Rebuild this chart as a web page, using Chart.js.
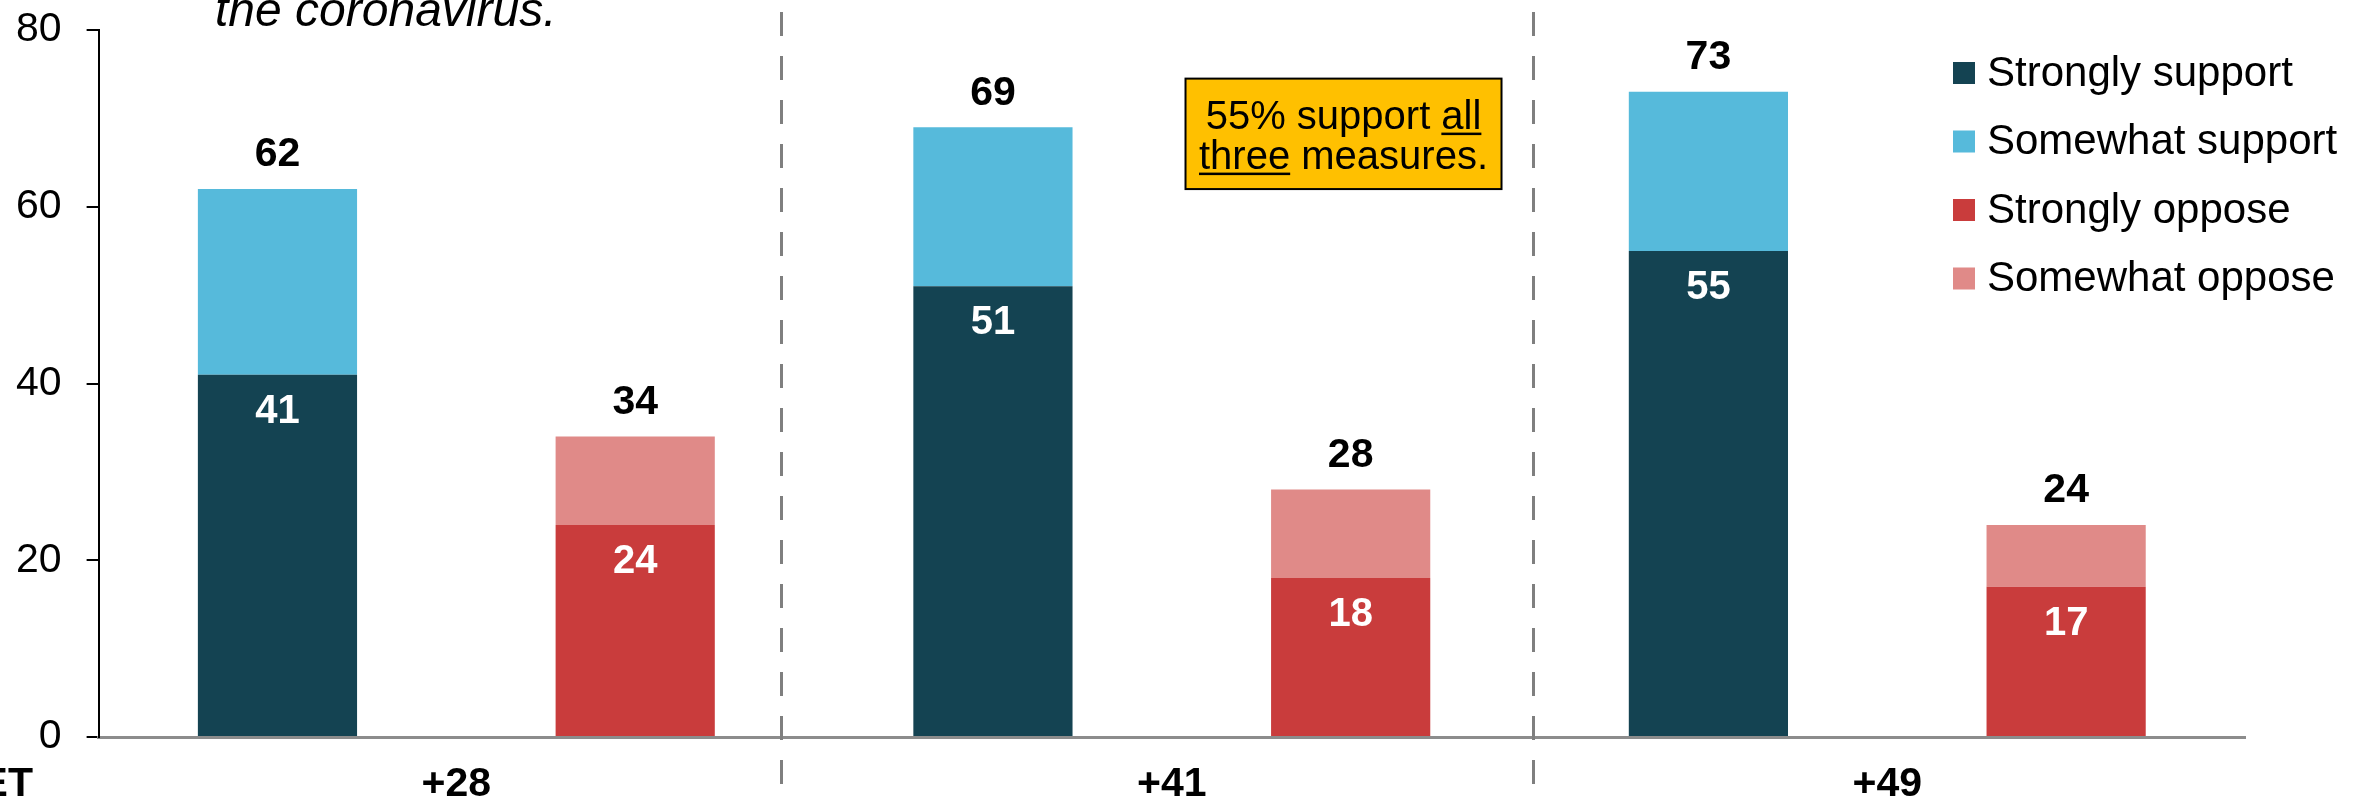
<!DOCTYPE html>
<html>
<head>
<meta charset="utf-8">
<script src="https://cdn.jsdelivr.net/npm/chart.js@4.4.1/dist/chart.umd.min.js"></script>
<style>
  html, body { margin: 0; padding: 0; background: #fff; }
  #wrap { width: 2368px; height: 805px; }
</style>
</head>
<body>
<div id="wrap"><canvas id="chart" width="2368" height="805"></canvas></div>
<script>
// values
var categories = ['+28', '+41', '+49'];
var stronglySupport = [41, 51, 55];
var somewhatSupport = [21, 18, 18];
var stronglyOppose = [24, 18, 17];
var somewhatOppose = [10, 10, 7];
var yTicks = [0, 20, 40, 60, 80];
var separatorsAt = [0.454, 1.505];   // in category units
var FONT = "'Liberation Sans', Arial, sans-serif";

Chart.defaults.font.family = FONT;
Chart.defaults.color = '#000';

// white numbers inside the "strongly" segments, black totals above each stack
var valueLabels = {
  id: 'valueLabels',
  afterDatasetsDraw: function(chart){
    var ctx = chart.ctx;
    ctx.save();
    ctx.textAlign = 'center';
    ctx.textBaseline = 'middle';
    chart.data.datasets.forEach(function(ds, di){
      var meta = chart.getDatasetMeta(di);
      meta.data.forEach(function(bar, i){
        if (ds.inner){
          ctx.font = 'bold 40px ' + FONT;
          ctx.fillStyle = '#fff';
          ctx.fillText(ds.data[i], bar.x, bar.y + 37);
        }
        if (ds.totalOf != null){
          var total = ds.data[i] + chart.data.datasets[ds.totalOf].data[i];
          ctx.font = 'bold 41px ' + FONT;
          ctx.fillStyle = '#000';
          ctx.fillText(total, bar.x, bar.y - 34);
        }
      });
    });
    ctx.restore();
  }
};

// dashed lines between the groups, title fragment, NET label, note box, legend
var extras = {
  id: 'extras',
  afterDraw: function(chart){
    var ctx = chart.ctx;
    var xs = chart.scales.x, ys = chart.scales.y;
    var area = chart.chartArea;
    ctx.save();

    ctx.strokeStyle = '#7f7f7f';
    ctx.lineWidth = 3;
    ctx.setLineDash([24, 20]);
    separatorsAt.forEach(function(v){
      var px = Math.round(xs.getPixelForValue(v)) + 0.5;
      ctx.beginPath();
      ctx.moveTo(px, area.bottom + 47);
      ctx.lineTo(px, 0);
      ctx.stroke();
    });
    ctx.setLineDash([]);

    ctx.fillStyle = '#000';
    ctx.font = 'italic 48px ' + FONT;
    ctx.textAlign = 'left';
    ctx.textBaseline = 'alphabetic';
    ctx.fillText('the coronavirus.', 215, 26);

    ctx.font = 'bold 41px ' + FONT;
    ctx.textAlign = 'right';
    ctx.textBaseline = 'middle';
    ctx.fillText('NET', 33, area.bottom + 48);

    // note box
    var cx = xs.getPixelForValue(1.24);
    var top = ys.getPixelForValue(74.5), bottom = ys.getPixelForValue(62);
    var w = 316;
    ctx.fillStyle = '#FFC000';
    ctx.fillRect(cx - w/2, top, w, bottom - top);
    ctx.strokeStyle = '#000';
    ctx.lineWidth = 2;
    ctx.strokeRect(cx - w/2, top, w, bottom - top);

    ctx.fillStyle = '#000';
    ctx.font = '40px ' + FONT;
    ctx.textAlign = 'left';
    ctx.textBaseline = 'alphabetic';
    var a1 = '55% support ', b1 = 'all';
    var w1 = ctx.measureText(a1 + b1).width;
    var x1 = cx - w1/2, y1 = top + 50;
    ctx.fillText(a1 + b1, x1, y1);
    var ux = x1 + ctx.measureText(a1).width;
    ctx.fillRect(ux, y1 + 4, ctx.measureText(b1).width, 2.5);
    var a2 = 'three', b2 = ' measures.';
    var w2 = ctx.measureText(a2 + b2).width;
    var x2 = cx - w2/2, y2 = top + 90;
    ctx.fillText(a2 + b2, x2, y2);
    ctx.fillRect(x2, y2 + 4, ctx.measureText(a2).width, 2.5);

    // legend
    var lx = area.right - 292, ly = area.top + 43;
    ctx.font = '42px ' + FONT;
    ctx.textBaseline = 'middle';
    chart.data.datasets.forEach(function(ds, di){
      var y = ly + di * 68.5;
      ctx.fillStyle = ds.backgroundColor;
      ctx.fillRect(lx, y - 11, 22, 22);
      ctx.fillStyle = '#000';
      ctx.fillText(ds.label, lx + 34, y + 1);
    });

    ctx.restore();
  }
};

var chart = new Chart(document.getElementById('chart'), {
  type: 'bar',
  data: {
    labels: categories,
    datasets: [
      {label: 'Strongly support', data: stronglySupport, stack: 'support', backgroundColor: '#144352', inner: true},
      {label: 'Somewhat support', data: somewhatSupport, stack: 'support', backgroundColor: '#56BADB', totalOf: 0},
      {label: 'Strongly oppose', data: stronglyOppose, stack: 'oppose', backgroundColor: '#C93C3C', inner: true},
      {label: 'Somewhat oppose', data: somewhatOppose, stack: 'oppose', backgroundColor: '#E08A88', totalOf: 2}
    ]
  },
  options: {
    responsive: false,
    animation: false,
    categoryPercentage: 1.0,
    barPercentage: 0.445,
    layout: {padding: {top: 30, left: -9, right: 123, bottom: 0}},
    plugins: {
      legend: {display: false},
      tooltip: {enabled: false}
    },
    scales: {
      x: {
        stacked: true,
        grid: {display: false, drawTicks: false},
        border: {display: true, color: '#8c8c8c', width: 3},
        ticks: {font: {size: 41, weight: 'bold', lineHeight: 1}, padding: 27, color: '#000'},
        afterFit: function(scale){ scale.height = 68; }
      },
      y: {
        stacked: true,
        min: 0,
        max: 80,
        afterBuildTicks: function(axis){
          axis.ticks = yTicks.map(function(v){ return {value: v}; });
        },
        afterFit: function(scale){ scale.paddingTop = 0; scale.paddingBottom = 0; },
        grid: {drawOnChartArea: false, drawTicks: true, tickLength: 12, color: '#000', lineWidth: 2},
        border: {display: true, color: '#000', width: 2},
        ticks: {font: {size: 41}, padding: 25, color: '#000'}
      }
    }
  },
  plugins: [valueLabels, extras]
});
</script>
</body>
</html>
